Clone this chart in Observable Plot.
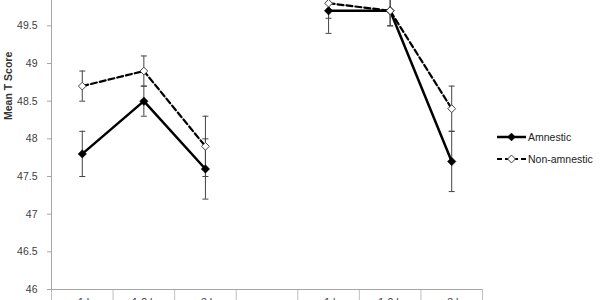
<!DOCTYPE html>
<html><head><meta charset="utf-8">
<script src="https://cdn.jsdelivr.net/npm/d3@7"></script>
<script src="https://cdn.jsdelivr.net/npm/@observablehq/plot@0.6"></script>
<style>
body{margin:0;background:#fff;}
#wrap{position:relative;width:600px;height:300px;overflow:hidden;background:#fff;}
#chart{position:absolute;left:0;top:-50px;}
#legend{position:absolute;left:497px;top:126px;font:10.5px "Liberation Sans",Arial,sans-serif;color:#222;}
.item{display:flex;align-items:center;height:22px;}
.item span{margin-left:1px;}
</style></head><body>
<div id="wrap"><div id="chart"></div><div id="legend"></div></div>
<script>
// Categories along x (4th is an empty spacer between the two groups)
const categories = ["≤1 h", "1-2 h", "≥3 h", "", "≤1 h", "1-2 h", "≥3 h"];
const seriesNames = ["Amnestic", "Non-amnestic"];
// category index of each data point, and the line segment it belongs to
const pointCategory = [0, 1, 2, 4, 5, 6];
const pointSegment = [1, 1, 1, 2, 2, 2];
const amnesticMean = [47.8, 48.5, 47.6, 49.7, 49.7, 47.7];
const amnesticErr = [0.3, 0.2, 0.4, 0.3, 0.2, 0.4];
const nonAmnesticMean = [48.7, 48.9, 47.9, 49.8, 49.7, 48.4];
const nonAmnesticErr = [0.2, 0.2, 0.4, 0.2, 0.2, 0.3];
const yTicks = [46, 46.5, 47, 47.5, 48, 48.5, 49, 49.5];
const yDomain = [46, 50.5];

function rowsFor(name, means, errs) {
  return means.map((m, i) => ({
    series: name,
    x: pointCategory[i] + 0.5,
    seg: pointSegment[i],
    y: m,
    lo: m - errs[i],
    hi: m + errs[i]
  }));
}
const amRows = rowsFor(seriesNames[0], amnesticMean, amnesticErr);
const naRows = rowsFor(seriesNames[1], nonAmnesticMean, nonAmnesticErr);
const allRows = amRows.concat(naRows);

const capSymbol = {
  draw(context, size) {
    const r = Math.sqrt(size / Math.PI);
    context.moveTo(-r, 0);
    context.lineTo(r, 0);
  }
};

const FONT = '"Liberation Sans", Arial, sans-serif';
const axisGray = "#a6a6a6";

const chart = Plot.plot({
  width: 600,
  height: 369,
  marginTop: 0,
  marginBottom: 30,
  marginLeft: 51,
  marginRight: 118,
  style: {fontFamily: FONT, fontSize: "10.5px", color: "#404040", background: "transparent"},
  x: {domain: [0, categories.length], axis: null, label: null},
  y: {domain: yDomain, axis: null, label: null},
  marks: [
    Plot.axisY({ticks: yTicks, tickSize: 4, tickPadding: 10, stroke: axisGray, label: null, tickFormat: d => String(d)}),
    Plot.text(["Mean T Score"], {frameAnchor: "left", rotate: -90, dx: -43, fontWeight: "bold", fill: "#333", fontSize: 10.5}),
    Plot.axisX({ticks: d3.range(categories.length + 1), tickSize: 16, tickFormat: () => "", stroke: "#bfbfbf", label: null}),
    Plot.axisX({ticks: categories.map((c, i) => i + 0.5), tickSize: 0, tickPadding: 9, tickFormat: d => categories[Math.floor(d)], label: null}),
    Plot.ruleX([0], {stroke: axisGray}),
    Plot.ruleY([yDomain[0]], {stroke: axisGray}),
    Plot.line(amRows, {x: "x", y: "y", z: "seg", stroke: "#000", strokeWidth: 2.5}),
    Plot.line(naRows, {x: "x", y: "y", z: "seg", stroke: "#000", strokeWidth: 2.2, strokeDasharray: "6,3"}),
    Plot.ruleX(allRows, {x: "x", y1: "lo", y2: "hi", stroke: "#444", strokeWidth: 1}),
    Plot.dot(allRows, {x: "x", y: "lo", symbol: capSymbol, r: 3, stroke: "#444", fill: "none", strokeWidth: 1}),
    Plot.dot(allRows, {x: "x", y: "hi", symbol: capSymbol, r: 3, stroke: "#444", fill: "none", strokeWidth: 1}),
    Plot.dot(amRows, {x: "x", y: "y", symbol: "diamond2", r: 3.8, fill: "#000", stroke: "#000", strokeWidth: 0.5}),
    Plot.dot(naRows, {x: "x", y: "y", symbol: "diamond2", r: 3.5, fill: "#fff", stroke: "#444", strokeWidth: 1})
  ]
});
document.getElementById("chart").appendChild(chart);

// legend
const legend = document.getElementById("legend");
const styles = [
  {dash: null, fill: "#000", stroke: "#000", width: 2.5},
  {dash: "5,3", fill: "#fff", stroke: "#444", width: 2.2}
];
seriesNames.forEach((name, i) => {
  const s = styles[i];
  const item = document.createElement("div");
  item.className = "item";
  const svg = d3.create("svg").attr("width", 30).attr("height", 12);
  svg.append("line").attr("x1", 0).attr("x2", 29).attr("y1", 6).attr("y2", 6)
    .attr("stroke", "#000").attr("stroke-width", s.width).attr("stroke-dasharray", s.dash);
  svg.append("path").attr("d", d3.symbol(d3.symbolDiamond2, 40)()).attr("transform", "translate(14.5,6)")
    .attr("fill", s.fill).attr("stroke", s.stroke).attr("stroke-width", i === 0 ? 0.5 : 1);
  item.appendChild(svg.node());
  const span = document.createElement("span");
  span.textContent = name;
  item.appendChild(span);
  legend.appendChild(item);
});
</script>
</body></html>
